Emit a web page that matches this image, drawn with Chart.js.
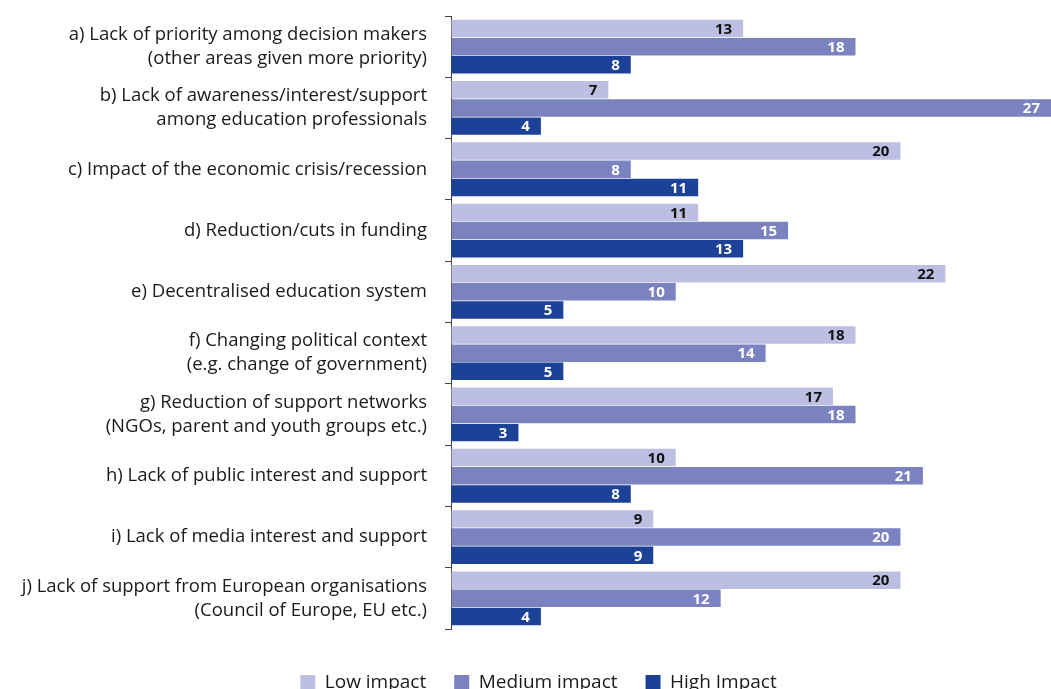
<!DOCTYPE html>
<html>
<head>
<meta charset="utf-8">
<script src="https://cdn.jsdelivr.net/npm/chart.js@4/dist/chart.umd.min.js"></script>
<style>
  html, body { margin: 0; padding: 0; background: #fff; overflow: hidden; }
  #wrap { width: 1051px; height: 702px; }
</style>
</head>
<body>
<div id="wrap"><canvas id="chart" width="1051" height="702"></canvas></div>
<script>
// categories (multi-line labels)
const categories = [
    ["a) Lack of priority among decision makers", "(other areas given more priority)"],
    ["b) Lack of awareness/interest/support", "among education professionals"],
    "c) Impact of the economic crisis/recession",
    "d) Reduction/cuts in funding",
    "e) Decentralised education system",
    ["f) Changing political context", "(e.g. change of government)"],
    ["g) Reduction of support networks", "(NGOs, parent and youth groups etc.)"],
    "h) Lack of public interest and support",
    "i) Lack of media interest and support",
    ["j) Lack of support from European organisations", "(Council of Europe, EU etc.)"]
];

const seriesNames = ["Low impact", "Medium impact", "High Impact"];
const lowImpact = [13, 7, 20, 11, 22, 18, 17, 10, 9, 20];
const mediumImpact = [18, 27, 8, 15, 10, 14, 18, 21, 20, 12];
const highImpact = [8, 4, 11, 13, 5, 5, 3, 8, 9, 4];

const colors = ["#bcbfe1", "#7a83bf", "#1b4296"];
const labelColors = ["#111111", "#ffffff", "#ffffff"];

const FONT = "'Open Sans', 'Noto Sans', sans-serif";

// valeurs dans les barres
const barValues = {
    id: "barValues",
    afterLayout(chart) {
        // légende un peu décalée à droite, comme l'original
        chart.legend.left += 13;
        chart.legend.right += 13;
    },
    afterDatasetsDraw(chart) {
        const ctx = chart.ctx;
        const area = chart.chartArea;
        ctx.save();
        ctx.font = "bold 15px " + FONT;
        ctx.textAlign = "right";
        ctx.textBaseline = "middle";
        chart.data.datasets.forEach((ds, i) => {
            const meta = chart.getDatasetMeta(i);
            meta.data.forEach((bar, j) => {
                const x = Math.min(bar.x, area.right) - 11;
                ctx.fillStyle = labelColors[i];
                ctx.fillText(ds.data[j], x, bar.y + 1);
            });
        });
        ctx.restore();
    }
};

const data = {
    labels: categories,
    datasets: [lowImpact, mediumImpact, highImpact].map((vals, i) => ({
        label: seriesNames[i],
        data: vals,
        backgroundColor: colors[i],
        borderWidth: 0,
        categoryPercentage: 0.89,
        barPercentage: 0.96
    }))
};

new Chart(document.getElementById("chart"), {
    type: "bar",
    data: data,
    plugins: [barValues],
    options: {
        indexAxis: "y",
        responsive: false,
        animation: false,
        layout: { padding: { top: 16, left: 0, right: 0, bottom: 0 } },
        scales: {
            x: {
                min: 0,
                max: 26.7,
                display: true,
                ticks: { display: false },
                grid: { display: true, drawOnChartArea: false, drawTicks: true, tickLength: 16, color: "rgba(0,0,0,0)" },
                border: { display: false }
            },
            y: {
                afterFit(scale) {
                    scale.width = 451;
                    scale.paddingTop = 0;
                    scale.paddingBottom = 0;
                },
                grid: { offset: true, drawOnChartArea: false, drawTicks: true, tickLength: 6, color: "#444", lineWidth: 1 },
                border: { display: true, color: "#444", width: 1 },
                ticks: {
                    color: "#1a1a1a",
                    padding: 18,
                    font: { family: FONT, size: 18.5, lineHeight: 1.3 }
                }
            }
        },
        plugins: {
            tooltip: { enabled: false },
            legend: {
                position: "bottom",
                align: "center",
                labels: {
                    boxWidth: 15,
                    boxHeight: 15,
                    padding: 28,
                    color: "#1a1a1a",
                    font: { family: FONT, size: 19 }
                }
            }
        }
    }
});
</script>
</body>
</html>
